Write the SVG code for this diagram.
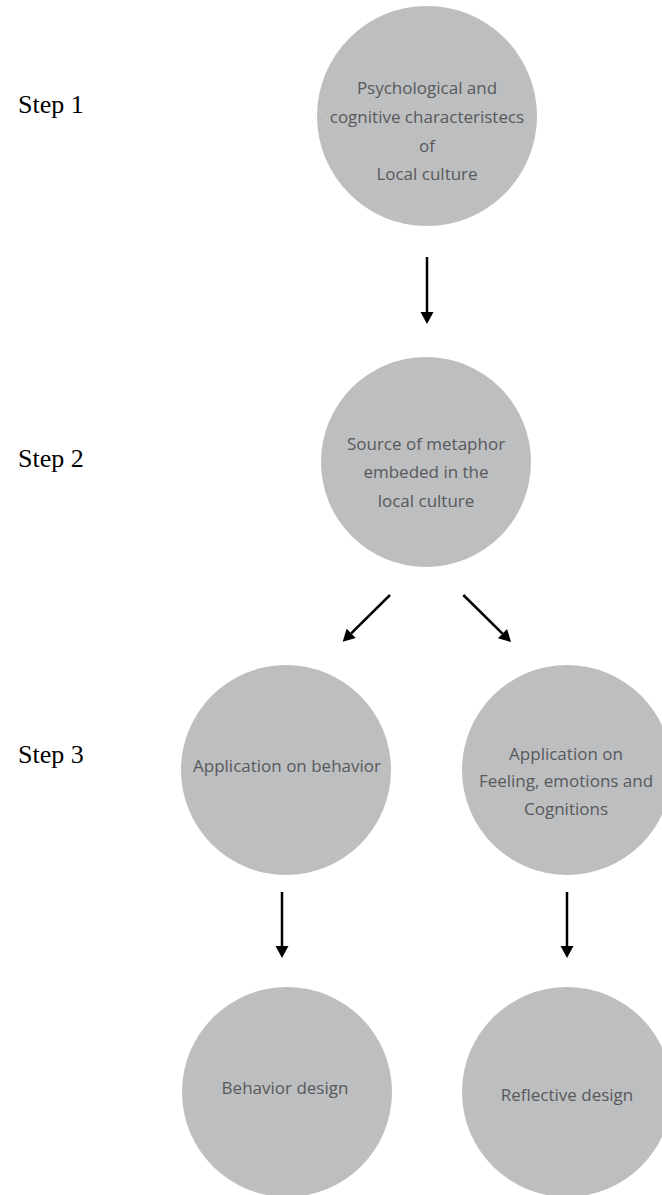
<svg xmlns="http://www.w3.org/2000/svg" width="662" height="1195" viewBox="0 0 662 1195">
<style>
.node{fill:#bcbec0;}
.lbl{font-family:"Open Sans","Noto Sans",sans-serif;font-size:17px;fill:#58595b;text-anchor:middle;}
.step{font-family:"Liberation Serif","Times New Roman",serif;font-size:26px;fill:#000;}
.conn{stroke:#000;stroke-width:2.5;fill:none;marker-end:url(#ah);}
</style>
<defs>
<marker id="ah" markerUnits="userSpaceOnUse" markerWidth="12" markerHeight="13" refX="0" refY="6.5" orient="auto" overflow="visible">
<path d="M0,0 L12,6.5 L0,13 Z" fill="#000"/>
</marker>
</defs>
<rect width="662" height="1195" fill="#fff"/>
<g id="steps">
<text class="step" x="18" y="113">Step 1</text>
<text class="step" x="18" y="467">Step 2</text>
<text class="step" x="18" y="763">Step 3</text>
</g>
<g id="n1">
<circle class="node" cx="427" cy="116" r="110"/>
<line x1="318" y1="110" x2="425" y2="224" stroke="#c8c9cb" stroke-width="0.8"/>
<text class="lbl" x="427" y="94">Psychological and</text>
<text class="lbl" x="427" y="123">cognitive characteristecs</text>
<text class="lbl" x="427" y="152">of</text>
<text class="lbl" x="427" y="180">Local culture</text>
</g>
<g id="n2">
<circle class="node" cx="426" cy="462" r="105"/>
<text class="lbl" x="426" y="450">Source of metaphor</text>
<text class="lbl" x="426" y="478">embeded in the</text>
<text class="lbl" x="426" y="507">local culture</text>
</g>
<g id="n3">
<circle class="node" cx="286" cy="770" r="105"/>
<text class="lbl" x="287" y="772">Application on behavior</text>
</g>
<g id="n4">
<circle class="node" cx="567" cy="770" r="105"/>
<text class="lbl" x="566" y="760">Application on</text>
<text class="lbl" x="566" y="787">Feeling, emotions and</text>
<text class="lbl" x="566" y="815">Cognitions</text>
</g>
<g id="n5">
<circle class="node" cx="287" cy="1092" r="105"/>
<text class="lbl" x="285" y="1094">Behavior design</text>
</g>
<g id="n6">
<circle class="node" cx="567" cy="1092" r="105"/>
<text class="lbl" x="567" y="1101">Reflective design</text>
</g>
<g id="connectors">
<line class="conn" x1="427" y1="257" x2="427" y2="312"/>
<line class="conn" x1="390" y1="595" x2="351.2" y2="633.3"/>
<line class="conn" x1="463.3" y1="595" x2="502.5" y2="633.6"/>
<line class="conn" x1="282" y1="892" x2="282" y2="946"/>
<line class="conn" x1="567" y1="892" x2="567" y2="946"/>
</g>
</svg>
